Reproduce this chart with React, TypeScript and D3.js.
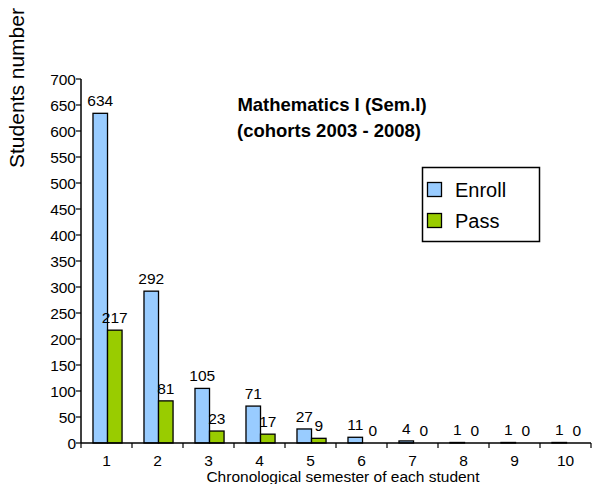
import { scaleBand, scaleLinear } from 'd3';

const semesters = ['1', '2', '3', '4', '5', '6', '7', '8', '9', '10'];
const enrollValues = [634, 292, 105, 71, 27, 11, 4, 1, 1, 1];
const passValues = [217, 81, 23, 17, 9, 0, 0, 0, 0, 0];
const seriesNames = ['Enroll', 'Pass'];
const seriesColors = ['#99ccff', '#99cc00'];
const yTicks = [0, 50, 100, 150, 200, 250, 300, 350, 400, 450, 500, 550, 600, 650, 700];

const WIDTH = 592;
const HEIGHT = 484;
const PLOT = { left: 81, right: 591, top: 79, bottom: 443 };
const FONT = '"Liberation Sans", Arial, sans-serif';

export default function App() {
  const x = scaleBand<string>().domain(semesters).range([PLOT.left, PLOT.right]).padding(0);
  const bw = x.bandwidth();
  const x1 = scaleBand<string>().domain(seriesNames).range([bw * 0.235, bw * 0.805]).padding(0);
  const y = scaleLinear().domain([0, 700]).range([PLOT.bottom, PLOT.top]);

  const series = [enrollValues, passValues];

  return (
    <svg
      width={WIDTH}
      height={HEIGHT}
      viewBox={`0 0 ${WIDTH} ${HEIGHT}`}
      style={{ position: 'absolute', left: 0, top: 0, background: '#fff' }}
      fontFamily={FONT}
    >
      {/* bars */}
      {semesters.map((s, i) => (
        <g key={s}>
          {series.map((vals, k) => {
            const v = vals[i];
            const bx = (x(s) ?? 0) + (x1(seriesNames[k]) ?? 0);
            const top = y(v);
            return (
              <g key={k}>
                {v > 0 ? (
                  <rect
                    x={bx}
                    y={top}
                    width={x1.bandwidth()}
                    height={PLOT.bottom - top}
                    fill={seriesColors[k]}
                    stroke="#000"
                    strokeWidth={1.3}
                  />
                ) : null}
                <text
                  x={bx + x1.bandwidth() / 2 + (k === 1 && v === 0 ? 3 : 0)}
                  y={top - 7}
                  fontSize={15.5}
                  textAnchor="middle"
                  fill="#000"
                >
                  {v}
                </text>
              </g>
            );
          })}
        </g>
      ))}

      {/* y axis */}
      <line x1={PLOT.left} x2={PLOT.left} y1={PLOT.top} y2={PLOT.bottom} stroke="#000" strokeWidth={1.5} />
      {yTicks.map((t) => (
        <g key={t}>
          <line x1={PLOT.left - 5} x2={PLOT.left} y1={y(t)} y2={y(t)} stroke="#000" strokeWidth={1.2} />
          <text x={PLOT.left - 5} y={y(t) + 5.5} fontSize={15.5} textAnchor="end" fill="#000">
            {t}
          </text>
        </g>
      ))}

      {/* x axis */}
      <line x1={PLOT.left} x2={PLOT.right} y1={PLOT.bottom} y2={PLOT.bottom} stroke="#000" strokeWidth={1.5} />
      {semesters.map((s) => (
        <g key={s}>
          <line
            x1={x(s) ?? 0}
            x2={x(s) ?? 0}
            y1={PLOT.bottom}
            y2={PLOT.bottom + 5}
            stroke="#000"
            strokeWidth={1.2}
          />
          <text x={(x(s) ?? 0) + bw / 2} y={466} fontSize={15.5} textAnchor="middle" fill="#000">
            {s}
          </text>
        </g>
      ))}
      <line x1={PLOT.right} x2={PLOT.right} y1={PLOT.bottom} y2={PLOT.bottom + 5} stroke="#000" strokeWidth={1.2} />

      <text x={343} y={482} fontSize={15.5} textAnchor="middle" fill="#000">
        Chronological semester of each student
      </text>
      <text
        transform="translate(24 88) rotate(-90)"
        fontSize={21}
        textAnchor="middle"
        fill="#000"
      >
        Students number
      </text>

      {/* title */}
      <text x={332} y={111} fontSize={18.5} fontWeight="bold" textAnchor="middle" fill="#000">
        Mathematics I (Sem.I)
      </text>
      <text x={329} y={137} fontSize={18.5} fontWeight="bold" textAnchor="middle" fill="#000">
        (cohorts 2003 - 2008)
      </text>

      {/* legend */}
      <rect x={422.5} y={167.5} width={117} height={74} fill="#fff" stroke="#000" strokeWidth={1.5} />
      {seriesNames.map((name, k) => (
        <g key={name}>
          <rect
            x={427.5}
            y={182.5 + k * 31}
            width={14}
            height={14}
            fill={seriesColors[k]}
            stroke="#000"
            strokeWidth={1.3}
          />
          <text x={455} y={197 + k * 31} fontSize={20} fill="#000">
            {name}
          </text>
        </g>
      ))}
    </svg>
  );
}
